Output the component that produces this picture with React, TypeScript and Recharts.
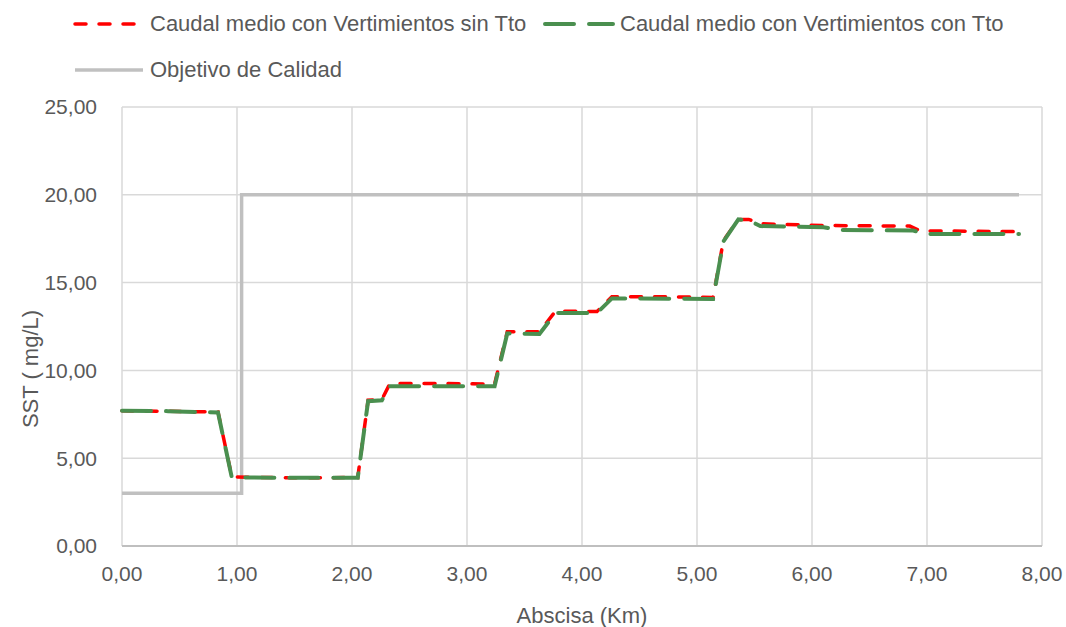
import React from "react";
import { LineChart, Line, XAxis, YAxis, CartesianGrid } from "recharts";

// abscisa (km) / SST (mg/L)
const sinTtoX = [0, 0.3, 0.6, 0.835, 0.955, 1.2, 1.6, 2.05, 2.14, 2.26, 2.33, 2.8, 3.24, 3.35, 3.63, 3.77, 4.13, 4.26, 4.7, 5.14, 5.23, 5.36, 5.45, 5.55, 6.1, 6.85, 6.94, 7.8];
const sinTtoY = [7.7, 7.68, 7.65, 7.63, 3.93, 3.9, 3.88, 3.9, 8.3, 8.35, 9.25, 9.25, 9.22, 12.2, 12.2, 13.38, 13.35, 14.2, 14.2, 14.15, 17.4, 18.6, 18.6, 18.35, 18.25, 18.22, 17.95, 17.9];

const conTtoX = [0, 0.4, 0.835, 0.955, 2.05, 2.14, 2.26, 2.33, 3.24, 3.35, 3.63, 3.77, 4.13, 4.26, 5.14, 5.23, 5.36, 5.45, 5.55, 6.1, 6.24, 6.88, 7.0, 7.8];
const conTtoY = [7.7, 7.68, 7.6, 3.9, 3.88, 8.25, 8.3, 9.1, 9.1, 12.1, 12.07, 13.27, 13.27, 14.1, 14.07, 17.35, 18.6, 18.55, 18.22, 18.15, 18.0, 17.96, 17.77, 17.77];

const objetivoX = [0, 1.04, 1.04, 7.8];
const objetivoY = [3, 3, 20, 20];

const xTicks = [0, 1, 2, 3, 4, 5, 6, 7, 8];
const yTicks = [0, 5, 10, 15, 20, 25];

const toPts = (xs: number[], ys: number[]) => xs.map((x, i) => ({ x, y: ys[i] }));
const sinTto = toPts(sinTtoX, sinTtoY);
const conTto = toPts(conTtoX, conTtoY);
const objetivo = toPts(objetivoX, objetivoY);

const FONT = "'Liberation Sans', Arial, sans-serif";
const TXT = "#595959";
const fmt = (v: number) => v.toFixed(2).replace(".", ",");

const RED = "#ff0000";
const GREEN = "#4a8f4f";
const GRAY = "#c0c0c0";

if (typeof document !== "undefined") {
  document.body.style.margin = "0";
  document.body.style.overflow = "hidden";
}

function LegendItem({ x, y, color, dash, label, width = 3.5 }: { x: number; y: number; color: string; dash?: string; label: string; width?: number }) {
  return (
    <div style={{ position: "absolute", left: x, top: y - 14, height: 28, display: "flex", alignItems: "center" }}>
      <svg width={72} height={10} style={{ marginRight: 5 }}>
        <line x1={2} y1={5} x2={70} y2={5} stroke={color} strokeWidth={width} strokeDasharray={dash} strokeLinecap={dash ? "round" : "butt"} />
      </svg>
      <span style={{ fontFamily: FONT, fontSize: 22, color: TXT, whiteSpace: "nowrap" }}>{label}</span>
    </div>
  );
}

export default function App() {
  return (
    <div style={{ position: "relative", width: 1066, height: 627, overflow: "hidden", background: "#fff" }}>
      <LegendItem x={73} y={24} color={RED} dash="11 13" label="Caudal medio con Vertimientos sin Tto" />
      <LegendItem x={543} y={24} color={GREEN} dash="29 15" width={4} label="Caudal medio con Vertimientos con Tto" />
      <LegendItem x={73} y={70} color={GRAY} label="Objetivo de Calidad" />
      <LineChart width={1066} height={627} margin={{ top: 107, right: 24, left: 0, bottom: 0 }}>
        <CartesianGrid stroke="#d9d9d9" strokeWidth={1.5} />
        <XAxis
          type="number"
          dataKey="x"
          domain={[0, 8]}
          ticks={xTicks}
          tickFormatter={fmt}
          height={81}
          tickLine={false}
          tickSize={0}
          tickMargin={20}
          axisLine={{ stroke: "#bfbfbf", strokeWidth: 2 }}
          tick={{ fontFamily: FONT, fontSize: 21, fill: TXT }}
          label={{
            content: (props: any) => {
              const vb = props.viewBox;
              return (
                <text x={vb.x + vb.width / 2} y={615} textAnchor="middle" dominantBaseline="central" fontFamily={FONT} fontSize={22} fill={TXT}>
                  Abscisa (Km)
                </text>
              );
            },
          }}
        />
        <YAxis
          type="number"
          dataKey="y"
          domain={[0, 25]}
          ticks={yTicks}
          tickFormatter={fmt}
          width={122}
          tickLine={false}
          tickSize={0}
          tickMargin={25}
          axisLine={false}
          tick={{ fontFamily: FONT, fontSize: 21, fill: TXT }}
          label={{
            content: () => (
              <text x={30} y={369} transform="rotate(-90 30 369)" textAnchor="middle" dominantBaseline="central" fontFamily={FONT} fontSize={22} fill={TXT}>
                SST ( mg/L)
              </text>
            ),
          }}
        />
        <Line data={objetivo} dataKey="y" type="linear" stroke={GRAY} strokeWidth={3.5} dot={false} activeDot={false} isAnimationActive={false} />
        <Line data={sinTto} dataKey="y" type="linear" stroke={RED} strokeWidth={3.5} strokeDasharray="11 13" strokeLinecap="round" dot={false} activeDot={false} isAnimationActive={false} />
        <Line data={conTto} dataKey="y" type="linear" stroke={GREEN} strokeWidth={4} strokeDasharray="29 15" strokeLinecap="round" dot={false} activeDot={false} isAnimationActive={false} />
      </LineChart>
    </div>
  );
}
